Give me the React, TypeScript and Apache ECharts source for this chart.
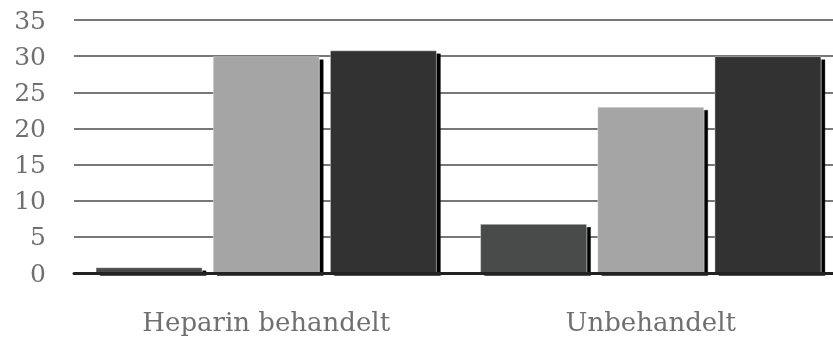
import React, { useEffect, useRef } from "react";
import * as echarts from "echarts";

const categories = ["Heparin behandelt", "Unbehandelt"];
const seriesA = [0.8, 6.8];
const seriesB = [30, 23];
const seriesC = [30.8, 30];
const yTicks = { min: 0, max: 35, interval: 5 };
const colors = ["#484c4b", "#a5a5a5", "#333333"];

export default function App() {
  const ref = useRef<HTMLDivElement>(null);
  useEffect(() => {
    const chart = echarts.init(ref.current!, undefined, { renderer: "svg" });
    const font = "DejaVu Serif";
    const mk = (data: number[], i: number) => ({
      type: "bar",
      data,
      barWidth: 107,
      barGap: "9.5%",
      z: 2,
      itemStyle: {
        color: colors[i],
        borderColor: "rgba(255,255,255,0.35)",
        borderWidth: 1,
        shadowColor: "#000",
        shadowBlur: 0,
        shadowOffsetX: 4,
        shadowOffsetY: 3,
      },
    });
    chart.setOption({
      animation: false,
      grid: { left: 74, right: 0, top: 20, bottom: 65, containLabel: false },
      xAxis: {
        type: "category",
        data: categories,
        z: 5,
        axisTick: { show: false },
        axisLine: { lineStyle: { color: "#222", width: 3 } },
        axisLabel: { color: "#707070", fontFamily: font, fontSize: 26, margin: 36 },
      },
      yAxis: {
        type: "value",
        min: yTicks.min,
        max: yTicks.max,
        interval: yTicks.interval,
        axisLine: { show: false },
        axisTick: { show: false },
        axisLabel: { color: "#707070", fontFamily: font, fontSize: 25, margin: 28 },
        splitLine: { lineStyle: { color: "#777", width: 2 } },
      },
      series: [mk(seriesA, 0), mk(seriesB, 1), mk(seriesC, 2)],
    });
    return () => chart.dispose();
  }, []);
  return (
    <div style={{ position: "fixed", left: 0, top: 0, width: 833, height: 338, overflow: "hidden" }}>
      <div ref={ref} style={{ width: 843, height: 338 }} />
    </div>
  );
}
